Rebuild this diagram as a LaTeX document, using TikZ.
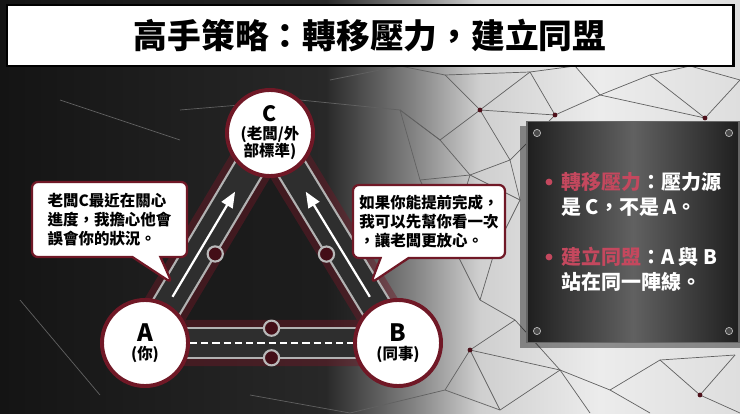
\documentclass[tikz,border=0pt]{standalone}
\usepackage{fontspec}
\setmainfont{Noto Sans CJK TC}
\usepackage{tikz}
\usetikzlibrary{calc}
\usetikzlibrary{arrows}
\usetikzlibrary{shapes}
\usetikzlibrary{shapes.callouts}
\definecolor{wine}{RGB}{112,24,38}
\definecolor{keypink}{RGB}{196,72,94}
\definecolor{bgdark}{RGB}{20,20,20}
\definecolor{bgdeep}{RGB}{40,40,40}
\definecolor{bggray}{RGB}{138,138,138}
\definecolor{bglight}{RGB}{207,207,207}
\definecolor{bgwhite}{RGB}{236,236,236}
\definecolor{bgedge}{RGB}{222,222,222}
\pgfdeclarehorizontalshading{backdrop}{100bp}{color(0bp)=(bgdark); color(25bp)=(bgdark); color(47bp)=(bgdeep); color(53.4bp)=(bggray); color(57.4bp)=(bglight); color(65.5bp)=(bgwhite); color(75bp)=(bgedge); color(100bp)=(bgedge)}
\pgfdeclarelayer{bg}
\pgfdeclarelayer{road}
\pgfsetlayers{bg,road,main}
\tikzstyle{titlebox}=[rectangle,draw=black,line width=2pt,fill=white,minimum width=18.15cm,minimum height=1.525cm,font=\bfseries\fontsize{24}{28}\selectfont]
\tikzstyle{person}=[circle,draw=wine,line width=2.8pt,fill=white,minimum size=2.15cm,inner sep=0mm,align=center,font=\bfseries\fontsize{11}{12.5}\selectfont]
\tikzstyle{road}=[draw=gray!60,line width=1.6pt,double=black!82,double distance=0.7cm]
\tikzstyle{glow}=[draw=wine,line width=1.15cm,opacity=0.45,line join=round]
\tikzstyle{lane}=[draw=white,line width=1.6pt,dash pattern=on 5pt off 3pt]
\tikzstyle{push}=[->,>=triangle 45,draw=white,line width=1.6pt]
\tikzstyle{ring}=[circle,draw=gray!55,line width=1.5pt,fill=wine!60!black,minimum size=0.38cm,inner sep=0mm]
\tikzstyle{bubble}=[rectangle callout,rounded corners=0.15cm,draw=wine,line width=1.6pt,fill=white,align=left,callout pointer width=0.7cm,font=\bfseries\fontsize{11}{13.5}\selectfont]
\tikzstyle{plate}=[rectangle,draw=black!60,line width=0.8pt,left color=black!88,right color=black!88,middle color=black!62,minimum width=5.3cm,minimum height=5.525cm]
\tikzstyle{screw}=[fill=black!70,draw=gray!55,line width=0.5pt]
\tikzstyle{point}=[anchor=west,align=left,text=white,inner sep=0mm,font=\bfseries\fontsize{14.2}{17.8}\selectfont]
\tikzstyle{web}=[draw=black!62,line width=0.5pt]

\begin{document}
\begin{tikzpicture}[x=0.025cm,y=-0.025cm]
      \useasboundingbox (0,0) rectangle (740,413);
      \begin{pgfonlayer}{bg}
      \shade[shading=backdrop] (0,0) rectangle (740,413);
      \foreach \xa/\ya/\xb/\yb in {400/66/445/75,445/75/480/110,445/75/530/72,480/110/530/72,
        530/72/555/115,480/110/555/115,555/115/600/95,530/72/575/66,575/66/600/95,
        600/95/650/75,650/75/705/118,600/95/705/118,650/75/690/66,705/118/740/80,
        690/66/740/80,480/110/440/140,440/140/470/175,470/175/510/160,510/160/480/110,
        510/160/555/115,470/175/450/240,450/240/495/250,495/250/520/200,520/200/470/175,
        520/200/510/160,495/250/480/300,480/300/515/320,515/320/470/350,470/350/445/390,
        445/390/500/410,470/350/500/410,480/300/450/240,420/250/450/240,440/140/400/110,
        400/110/420/180,420/180/470/175,420/180/450/240,500/410/560/370,560/370/610/390,
        610/390/660/360,660/360/700/395,700/395/735/355,560/370/590/413,610/390/650/413,
        515/320/560/370,470/350/560/370,660/360/735/355,700/395/740/413,
        300/100/400/110,180/110/300/100,60/100/180/140,20/300/100/395,
        250/395/350/413,350/413/445/390,330/80/400/66,440/140/400/110}
        \draw[web] (\xa,\ya) -- (\xb,\yb);
      \foreach \dx/\dy in {555/115,705/118,450/240,470/350,700/395,480/110}
        \fill[wine!70!black] (\dx,\dy) circle (0.06cm);
      \end{pgfonlayer}
      \node[titlebox] at (370,35.5) (title) {高手策略：轉移壓力，建立同盟};
      \node[person] at (270,133) (C) {{\fontsize{15}{16}\selectfont C}\\(老闆/外\\部標準)};
      \node[person] at (145,343) (A) {{\fontsize{17}{18}\selectfont A}\\(你)};
      \node[person] at (398,343) (B) {{\fontsize{17}{18}\selectfont B}\\(同事)};
      \begin{pgfonlayer}{road}
      \fill[black!90,opacity=0.7] (A.center) -- (B.center) -- (C.center) -- cycle;
      \draw[glow] (A.center) -- (B.center) -- (C.center) -- cycle;
      \draw[road] (A.center) -- (C.center);
      \draw[road] (B.center) -- (C.center);
      \draw[road] (A.center) -- (B.center);
      \draw[lane] (A) -- (B);
      \draw[push] ($(A)!0.22!(C)$) -- ($(A)!0.72!(C)$);
      \draw[push] ($(B)!0.22!(C)$) -- ($(B)!0.72!(C)$);
      \node[ring] at ($(A)!0.46!(C)!0.37cm!-90:(C)$) (ringAC) {};
      \node[ring] at ($(B)!0.46!(C)!0.37cm!90:(C)$) (ringBC) {};
      \node[ring] at ($(A)!0.5!(B)!0.37cm!90:(B)$) (ringAB) {};
      \node[ring] at ($(A)!0.5!(B)!0.37cm!-90:(B)$) (ringBA) {};
      \end{pgfonlayer}
      \node[bubble,callout absolute pointer={(172,283)},minimum width=3.875cm,minimum height=1.875cm] at (109.5,219.5) (talkA) {老闆C最近在關心\\進度，我擔心他會\\誤會你的狀況。};
      \node[bubble,callout absolute pointer={(371,283)},minimum width=3.8cm,minimum height=1.825cm] at (429,221.5) (talkB) {如果你能提前完成，\\我可以先幫你看一次\\，讓老闆更放心。};
      \fill[black,opacity=0.4] (520,126) rectangle (740,348);
      \node[plate] at (633,232) (plate) {};
      \foreach \sx/\sy in {537/133,729/133,537/331,729/331}
        \filldraw[screw] (\sx,\sy) circle (0.09cm);
      \fill[keypink] (549,182) circle (0.085cm);
      \fill[keypink] (549,257) circle (0.085cm);
      \node[point] at (561,194.5) (shift) {{\color{keypink}轉移壓力}：壓力源\\是 C，不是 A。};
      \node[point] at (561,269.5) (ally) {{\color{keypink}建立同盟}：A 與 B\\站在同一陣線。};
    \end{tikzpicture}
\end{document}
